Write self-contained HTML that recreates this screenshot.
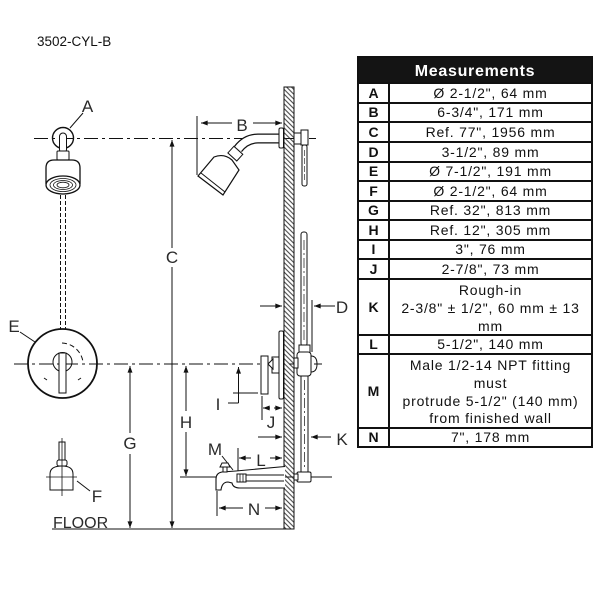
<!DOCTYPE html>
<html><head><meta charset="utf-8"><style>
html,body{margin:0;padding:0;background:#fff;}
svg{display:block;}
.lb{font-family:"Liberation Sans",sans-serif;font-size:17px;fill:#2a2a2a;}
.tl{font-family:"Liberation Sans",sans-serif;font-size:14px;fill:#111;letter-spacing:0.8px;}
.tk{font-family:"Liberation Sans",sans-serif;font-size:14px;font-weight:bold;fill:#111;}
</style></head><body>
<svg width="600" height="600" viewBox="0 0 600 600" xmlns="http://www.w3.org/2000/svg">
<defs>
<pattern id="h" patternUnits="userSpaceOnUse" width="3.4" height="3.4" patternTransform="rotate(45)">
<line x1="0" y1="1.7" x2="3.4" y2="1.7" stroke="#222" stroke-width="0.9"/>
</pattern>
<marker id="a" viewBox="0 0 8 6" refX="8" refY="3" markerWidth="7" markerHeight="5" orient="auto" markerUnits="userSpaceOnUse"><path d="M0,0L8,3L0,6z" fill="#111"/></marker>
</defs>

<text x="37" y="46" font-family="Liberation Sans, sans-serif" font-size="13.5" fill="#111">3502-CYL-B</text>

<g stroke="#111" stroke-width="1" fill="none">
<!-- centerlines -->
<line x1="34" y1="138.5" x2="316" y2="138.5" stroke-dasharray="14 4 3 4"/>
<line x1="14" y1="364" x2="322" y2="364" stroke-dasharray="14 4 3 4"/>

<!-- C G H -->
<line x1="172" y1="248" x2="172" y2="140" marker-end="url(#a)"/>
<line x1="172" y1="267" x2="172" y2="528" marker-end="url(#a)"/>
<line x1="130" y1="433" x2="130" y2="366" marker-end="url(#a)"/>
<line x1="130" y1="454" x2="130" y2="528" marker-end="url(#a)"/>
<line x1="186" y1="411" x2="186" y2="366" marker-end="url(#a)"/>
<line x1="186" y1="432" x2="186" y2="476" marker-end="url(#a)"/>
<line x1="180" y1="477" x2="332" y2="477"/>
<!-- floor -->
<line x1="52" y1="529" x2="285" y2="529"/>

<!-- A leader & front shower head -->
<line x1="70" y1="128" x2="83" y2="113"/>
<circle cx="63" cy="138" r="10.5" stroke-width="1.4"/>
<rect x="59.5" y="133" width="7" height="20" rx="3.5" fill="#fff"/>
<rect x="57" y="151" width="12" height="9" rx="1" fill="#fff"/>
<path d="M46,184 L46,168 Q46,160 54,160 L72,160 Q80,160 80,168 L80,184" fill="#fff" stroke-width="1.3"/>
<ellipse cx="63" cy="185" rx="17" ry="9" fill="#fff" stroke-width="1.3"/>
<ellipse cx="63" cy="185" rx="13" ry="6.5" stroke-width="0.8"/>
<ellipse cx="63" cy="185" rx="9.5" ry="4.5" stroke-width="0.8"/>
<ellipse cx="63" cy="185" rx="6" ry="2.8" stroke-width="0.8"/>
<line x1="60.5" y1="195" x2="60.5" y2="329" stroke-dasharray="4 2"/>
<line x1="65.5" y1="195" x2="65.5" y2="329" stroke-dasharray="4 2"/>

<!-- E valve front -->
<line x1="20" y1="332" x2="35" y2="342"/>
<circle cx="62.5" cy="363.5" r="34.5" stroke-width="1.8" fill="none"/>
<circle cx="62.5" cy="362" r="9.5"/>
<rect x="59" y="353" width="7" height="40" fill="#fff"/>
<path d="M62,343 A22,22 0 0 1 83,362" stroke-dasharray="5 3"/>
<line x1="44" y1="378" x2="47" y2="380"/>
<line x1="81" y1="378" x2="78" y2="380"/>

<!-- F tub spout front -->
<line x1="77" y1="481" x2="90" y2="491"/>
<rect x="59" y="442" width="6" height="18"/>
<line x1="62" y1="438" x2="62" y2="496" stroke-width="0.8"/>
<rect x="57" y="460" width="10" height="6" rx="2"/>
<path d="M50,490 L50,474 Q50,466 62,466 Q73,466 73,474 L73,490 Z"/>
<line x1="46" y1="477" x2="77" y2="477" stroke-width="0.8"/>

<!-- wall -->
<rect x="284" y="87" width="10" height="442" fill="url(#h)" stroke="#111"/>

<!-- B dimension -->
<line x1="197" y1="116" x2="197" y2="175"/>
<line x1="232" y1="123" x2="201" y2="123" marker-end="url(#a)"/>
<line x1="253" y1="123" x2="282" y2="123" marker-end="url(#a)"/>

<!-- shower arm side -->
<path d="M280,138.5 L258,138.5 Q246,138.5 238,149" stroke-width="10" stroke-linecap="butt"/>
<path d="M281,138.5 L258,138.5 Q246,138.5 238,149" stroke="#fff" stroke-width="7.5" stroke-linecap="butt"/>
<rect x="279" y="128" width="4.5" height="20" rx="1.5" fill="#fff"/>
<g transform="rotate(42 235 154)"><rect x="229" y="149" width="12" height="9" fill="#fff"/></g>
<path d="M198,176 L214,157 Q224,153 232,160 L239,170 L223,195 Z" fill="#fff" stroke-width="1.2"/>
<line x1="201" y1="173" x2="225" y2="192"/>
<!-- fitting right of wall -->
<rect x="294" y="133" width="8" height="11" fill="#fff"/>
<rect x="301" y="130" width="7" height="15" fill="#fff"/>
<rect x="302" y="145" width="5" height="41" rx="2" fill="#fff"/>
<line x1="304.5" y1="150" x2="304.5" y2="182" stroke-width="0.6" stroke-dasharray="6 2"/>

<!-- riser & valve body right side -->
<rect x="301" y="232" width="6" height="114" rx="2.5" fill="#fff"/>
<line x1="304" y1="240" x2="304" y2="340" stroke-width="0.7" stroke-dasharray="10 3 2 3"/>
<rect x="299" y="345" width="11" height="8" fill="#fff"/>
<rect x="297" y="352" width="14" height="24" rx="3" fill="#fff"/>
<path d="M311,356 Q317,356 317,364 Q317,372 311,372"/>
<rect x="294" y="358" width="4" height="10" fill="#fff"/>
<rect x="301" y="376" width="7" height="96" fill="#fff"/>
<line x1="304.5" y1="380" x2="304.5" y2="468" stroke-width="0.7" stroke-dasharray="10 3 2 3"/>
<rect x="297" y="472" width="14" height="10" rx="1.5" fill="#fff"/>
<rect x="294" y="474" width="4" height="6" fill="#fff"/>

<!-- D -->
<line x1="260" y1="306" x2="282" y2="306" marker-end="url(#a)"/>
<line x1="335" y1="306" x2="314" y2="306" marker-end="url(#a)"/>
<line x1="312" y1="300" x2="312" y2="352"/>

<!-- valve trim left side -->
<rect x="279" y="331" width="4.5" height="68" rx="1.5" fill="#fff"/>
<rect x="272" y="357" width="7" height="16" fill="#fff"/>
<path d="M268,364 L273,359 L273,369 Z" fill="#fff"/>
<rect x="261" y="356" width="7" height="38" fill="#fff"/>

<!-- I -->
<line x1="238.5" y1="403" x2="238.5" y2="367" marker-end="url(#a)"/>
<line x1="233" y1="393" x2="258" y2="393"/>
<line x1="228" y1="403" x2="238.5" y2="403"/>
<!-- J -->
<line x1="262" y1="396" x2="262" y2="420"/>
<line x1="270" y1="408" x2="263" y2="408" marker-end="url(#a)"/>
<line x1="274" y1="408" x2="282" y2="408" marker-end="url(#a)"/>
<!-- K -->
<line x1="258" y1="437" x2="282" y2="437" marker-end="url(#a)"/>
<line x1="331" y1="437" x2="311" y2="437" marker-end="url(#a)"/>
<!-- L -->
<line x1="238" y1="448" x2="238" y2="472"/>
<line x1="251" y1="458" x2="239" y2="458" marker-end="url(#a)"/>
<line x1="270" y1="458" x2="282" y2="458" marker-end="url(#a)"/>
<!-- M leader -->
<line x1="222" y1="456" x2="233" y2="470"/>

<!-- tub spout side -->
<path d="M285,466.5 L236,471 L222,472 Q216,473 216,479 L216,490 L221,490 Q222,482 228,482 L232,483 Q233,488 240,488 L285,488" fill="#fff" stroke-width="1.1"/>
<rect x="223" y="467" width="4" height="5" fill="#fff"/>
<path d="M220,467 L230,467 L228,463 L222,463 Z" fill="#fff"/>
<rect x="237" y="474" width="9" height="8" fill="#fff"/>
<line x1="240" y1="474" x2="240" y2="482" stroke-width="0.8"/>
<line x1="243" y1="474" x2="243" y2="482" stroke-width="0.8"/>
<line x1="246" y1="475" x2="284" y2="475"/>
<line x1="246" y1="481" x2="284" y2="481"/>

<!-- N -->
<line x1="217" y1="491" x2="217" y2="516"/>
<line x1="243" y1="508" x2="219" y2="508" marker-end="url(#a)"/>
<line x1="265" y1="508" x2="282" y2="508" marker-end="url(#a)"/>
</g>

<!-- labels -->
<g class="lb">
<text x="87.5" y="112" text-anchor="middle">A</text>
<text x="242" y="131" text-anchor="middle">B</text>
<text x="172" y="263" text-anchor="middle">C</text>
<text x="342" y="313" text-anchor="middle">D</text>
<text x="14" y="332" text-anchor="middle">E</text>
<text x="97" y="502" text-anchor="middle">F</text>
<text x="130" y="449" text-anchor="middle">G</text>
<text x="186" y="428" text-anchor="middle">H</text>
<text x="218" y="410" text-anchor="middle">I</text>
<text x="271" y="428" text-anchor="middle">J</text>
<text x="342" y="445" text-anchor="middle">K</text>
<text x="261" y="466" text-anchor="middle">L</text>
<text x="215" y="455" text-anchor="middle">M</text>
<text x="254" y="515" text-anchor="middle">N</text>
<text x="53" y="528" font-size="16">FLOOR</text>
</g>

<!-- table -->
<rect x="358" y="57" width="234" height="26" fill="#141414"/>
<text x="475" y="76" text-anchor="middle" font-family="Liberation Sans, sans-serif" font-size="16" font-weight="bold" fill="#fff" letter-spacing="0.7">Measurements</text>
<g stroke="#111" stroke-width="2" fill="none">
<rect x="358" y="57" width="234" height="390"/>
<line x1="389" y1="83" x2="389" y2="447"/>
<line x1="358" y1="83" x2="592" y2="83"/>
<line x1="358" y1="103" x2="592" y2="103"/>
<line x1="358" y1="122" x2="592" y2="122"/>
<line x1="358" y1="142" x2="592" y2="142"/>
<line x1="358" y1="162" x2="592" y2="162"/>
<line x1="358" y1="181" x2="592" y2="181"/>
<line x1="358" y1="201" x2="592" y2="201"/>
<line x1="358" y1="220" x2="592" y2="220"/>
<line x1="358" y1="240" x2="592" y2="240"/>
<line x1="358" y1="259" x2="592" y2="259"/>
<line x1="358" y1="279" x2="592" y2="279"/>
<line x1="358" y1="335" x2="592" y2="335"/>
<line x1="358" y1="354" x2="592" y2="354"/>
<line x1="358" y1="428" x2="592" y2="428"/>
</g>
<g class="tk" text-anchor="middle">
<text x="373.5" y="98">A</text>
<text x="373.5" y="117">B</text>
<text x="373.5" y="137">C</text>
<text x="373.5" y="157">D</text>
<text x="373.5" y="176">E</text>
<text x="373.5" y="196">F</text>
<text x="373.5" y="215">G</text>
<text x="373.5" y="235">H</text>
<text x="373.5" y="254">I</text>
<text x="373.5" y="274">J</text>
<text x="373.5" y="312">K</text>
<text x="373.5" y="349">L</text>
<text x="373.5" y="396">M</text>
<text x="373.5" y="442">N</text>
</g>
<g class="tl" text-anchor="middle">
<text x="490.5" y="98">Ø 2-1/2", 64 mm</text>
<text x="490.5" y="117">6-3/4", 171 mm</text>
<text x="490.5" y="137">Ref. 77", 1956 mm</text>
<text x="490.5" y="157">3-1/2", 89 mm</text>
<text x="490.5" y="176">Ø 7-1/2", 191 mm</text>
<text x="490.5" y="196">Ø 2-1/2", 64 mm</text>
<text x="490.5" y="215">Ref. 32", 813 mm</text>
<text x="490.5" y="235">Ref. 12", 305 mm</text>
<text x="490.5" y="254">3", 76 mm</text>
<text x="490.5" y="274">2-7/8", 73 mm</text>
<text x="490.5" y="295">Rough-in</text>
<text x="490.5" y="313">2-3/8" ± 1/2", 60 mm ± 13</text>
<text x="490.5" y="331">mm</text>
<text x="490.5" y="349">5-1/2", 140 mm</text>
<text x="490.5" y="370">Male 1/2-14 NPT fitting</text>
<text x="490.5" y="388">must</text>
<text x="490.5" y="406">protrude 5-1/2" (140 mm)</text>
<text x="490.5" y="423">from finished wall</text>
<text x="490.5" y="442">7", 178 mm</text>
</g>
</svg>
</body></html>
